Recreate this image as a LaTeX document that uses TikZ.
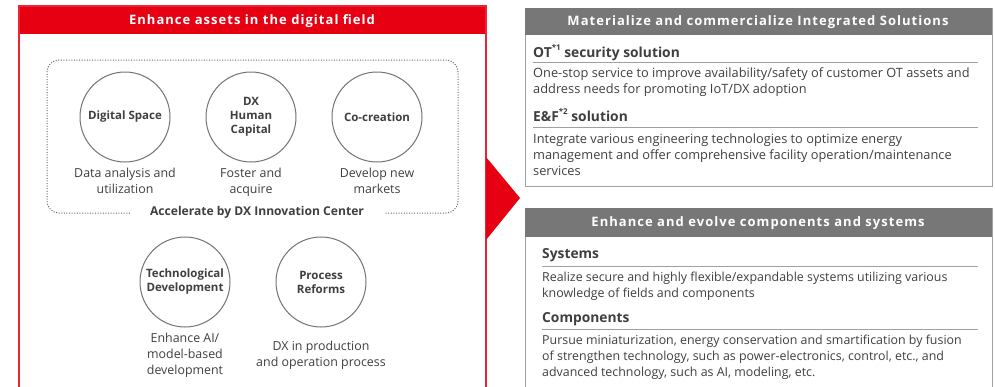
\documentclass[tikz,border=0pt]{standalone}
\usepackage{fontspec}
\setmainfont{Open Sans}
\newfontfamily\headfont[LetterSpace=8]{Open Sans}
\usetikzlibrary{positioning}
\definecolor{brandred}{HTML}{E60012}
\definecolor{headgray}{HTML}{777777}
\definecolor{inkgray}{HTML}{3F3F3F}
\definecolor{rulegray}{HTML}{A0A0A0}
\newcommand{\noteref}[1]{\raisebox{0.45em}{\fontsize{8}{8}\selectfont *#1}}

\tikzset{
  field/.style={circle, draw=black!55, line width=1pt, minimum size=90pt, inner sep=0pt,
    align=center, text=inkgray, font=\fontsize{11.5}{14}\selectfont\bfseries},
  caption/.style={align=center, inner sep=0pt, text=inkgray, font=\fontsize{12.4}{16}\selectfont},
  headtext/.style={text=white, font=\headfont\fontsize{13}{15}\selectfont\bfseries},
  subhead/.style={anchor=base west, inner sep=0pt, text=inkgray, font=\fontsize{13.8}{15}\selectfont\bfseries},
  bodytext/.style={anchor=north west, align=left, inner sep=0pt, text=inkgray,
    font=\fontsize{#1}{16}\selectfont},
  bodytext/.default=12.6,
}

\begin{document}
\begin{tikzpicture}[x=1pt,y=-1pt]
  \useasboundingbox (0,0) rectangle (995,386);
  %%%%% left panel %%%%%
  \fill[brandred] (18,6) rectangle (487,34);
  \draw[brandred!85, line width=1.6pt] (19,390) -- (19,6) -- (486,6) -- (486,390);
  \node[headtext] (assets) at (252,21.5) {Enhance assets in the digital field};

  \fill[brandred] (486,157) -- (520,198) -- (486,240) -- cycle;

  \node[field] (dspace) at (125,117) {Digital Space};
  \node[field] (human) at (251,117) {DX\\Human\\Capital};
  \node[field] (cocreate) at (377,117) {Co-creation};
  \node[caption, below=5pt of dspace] (dspacetxt) {Data analysis and\\utilization};
  \node[caption, below=5pt of human] (humantxt) {Foster and\\acquire};
  \node[caption, below=5pt of cocreate] (cocreatetxt) {Develop new\\markets};

  \node[inner xsep=20pt, text=inkgray, font=\fontsize{12.1}{14}\selectfont\bfseries]
    (dxcenter) at (257,212) {Accelerate by DX Innovation Center};
  \draw[black!60, line width=1pt, dash pattern=on 1pt off 1.6pt, rounded corners=12pt]
    (dxcenter.west |- 0,213) -- (47,213) -- (47,60) -- (458,60) -- (458,213) -- (dxcenter.east |- 0,213);

  \node[field] (techdev) at (185,282) {Technological\\Development};
  \node[field] (process) at (321,282) {Process\\Reforms};
  \node[caption, below=5pt of techdev] (techdevtxt) {Enhance AI/\\model-based\\development};
  \node[caption, below=13pt of process] (processtxt) {DX in production\\and operation process};

  %%%%% right panels %%%%%
  \draw[rulegray, line width=0.8pt] (525,8) rectangle (992,186);
  \fill[headgray] (525,8) rectangle (992,35);
  \node[headtext] (solutions) at (758,22.5) {Materialize and commercialize Integrated Solutions};
  \node[subhead] (ot) at (533,57) {OT\noteref{1} security solution};
  \draw[rulegray, line width=1pt] (533,62) -- (978,62);
  \node[bodytext=12.8] (otdesc) at (533,68) {One-stop service to improve availability/safety of customer OT assets and\\address needs for promoting IoT/DX adoption};
  \node[subhead] (ef) at (533,121) {E\&F\noteref{2} solution};
  \draw[rulegray, line width=1pt] (533,127) -- (978,127);
  \node[bodytext=12.8] (efdesc) at (533,134) {Integrate various engineering technologies to optimize energy\\management and offer comprehensive facility operation/maintenance\\services};

  \draw[rulegray, line width=0.8pt] (525,390) -- (525,208) -- (992,208) -- (992,390);
  \fill[headgray] (525,208) rectangle (992,237);
  \node[headtext] (evolve) at (758,223.5) {Enhance and evolve components and systems};
  \node[subhead] (systems) at (542,258) {Systems};
  \draw[rulegray, line width=1pt] (542,266) -- (978,266);
  \node[bodytext=12.4] (systemsdesc) at (542,272) {Realize secure and highly flexible/expandable systems utilizing various\\knowledge of fields and components};
  \node[subhead] (parts) at (542,322) {Components};
  \draw[rulegray, line width=1pt] (542,329) -- (978,329);
  \node[bodytext=12.4] (partsdesc) at (542,335) {Pursue miniaturization, energy conservation and smartification by fusion\\of strengthen technology, such as power-electronics, control, etc., and\\advanced technology, such as AI, modeling, etc.};
\end{tikzpicture}
\end{document}
